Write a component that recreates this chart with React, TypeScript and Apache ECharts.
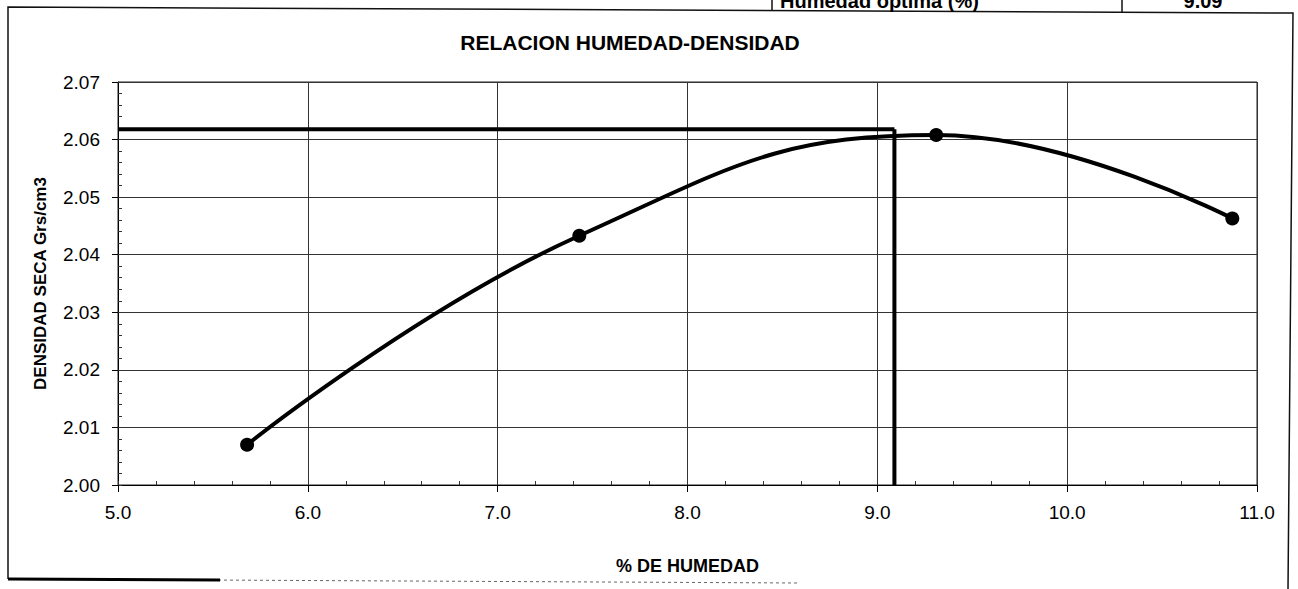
import React, { useEffect, useRef } from "react";
import * as echarts from "echarts";

// Data
const humedad = [5.68, 7.43, 9.31, 10.87];
const densidad = [2.007, 2.0433, 2.0608, 2.0463];
const humedadOptima = 9.09;
const densidadMaxima = 2.0618;
const xTicks = [5, 6, 7, 8, 9, 10, 11];
const yTicks = [2.0, 2.01, 2.02, 2.03, 2.04, 2.05, 2.06, 2.07];

const FONT = "'Liberation Sans', Arial, Helvetica, sans-serif";

export default function App() {
  const ref = useRef<HTMLDivElement>(null);
  useEffect(() => {
    if (!ref.current) return;
    const chart = echarts.init(ref.current, undefined, { renderer: "svg" });
    const xMin = xTicks[0];
    const xMax = xTicks[xTicks.length - 1];
    const yMin = yTicks[0];
    const yMax = yTicks[yTicks.length - 1];
    const curve = humedad.map((x, i) => [x, densidad[i]]);
    const hLine = [
      [xMin, densidadMaxima],
      [humedadOptima, densidadMaxima],
    ];
    const vLine = [
      [humedadOptima, densidadMaxima],
      [humedadOptima, yMin],
    ];
    chart.setOption({
      animation: false,
      backgroundColor: "#ffffff",
      textStyle: { fontFamily: FONT, color: "#000" },
      grid: {
        left: 118,
        right: 41,
        top: 82,
        bottom: 104,
        show: true,
        borderColor: "#222",
        borderWidth: 1,
      },
      xAxis: [
        {
          type: "value",
          min: xMin,
          max: xMax,
          interval: 1,
          name: "% DE HUMEDAD",
          nameLocation: "middle",
          nameGap: 72,
          nameTextStyle: { fontFamily: FONT, fontWeight: "bold", fontSize: 18, color: "#000" },
          axisLine: { show: true, lineStyle: { color: "#000", width: 1 } },
          axisTick: { show: true, length: 7, lineStyle: { color: "#000" } },
          axisLabel: {
            formatter: (v: number) => v.toFixed(1),
            fontSize: 19,
            color: "#000",
            fontFamily: FONT,
            margin: 18,
          },
          splitLine: { show: true, lineStyle: { color: "#333", width: 1 } },
        },
        {
          type: "value",
          min: xMin,
          max: xMax,
          interval: 0.2,
          position: "bottom",
          axisLine: { show: false },
          axisTick: { show: true, inside: true, length: 4, lineStyle: { color: "#333" } },
          axisLabel: { show: false },
          splitLine: { show: false },
        },
      ],
      yAxis: [
        {
          type: "value",
          min: yMin,
          max: yMax,
          interval: 0.01,
          name: "DENSIDAD SECA Grs/cm3",
          nameLocation: "middle",
          nameRotate: 90,
          nameGap: 69,
          nameTextStyle: { fontFamily: FONT, fontWeight: "bold", fontSize: 17, color: "#000" },
          axisLine: { show: true, lineStyle: { color: "#000", width: 1 } },
          axisTick: { show: true, length: 6, lineStyle: { color: "#000" } },
          axisLabel: {
            formatter: (v: number) => v.toFixed(2),
            fontSize: 19,
            color: "#000",
            fontFamily: FONT,
            margin: 18,
          },
          splitLine: { show: true, lineStyle: { color: "#333", width: 1 } },
        },
        {
          type: "value",
          min: yMin,
          max: yMax,
          interval: 0.002,
          position: "left",
          axisLine: { show: false },
          axisTick: { show: true, inside: true, length: 4, lineStyle: { color: "#333" } },
          axisLabel: { show: false },
          splitLine: { show: false },
        },
      ],
      graphic: [
        {
          type: "text",
          x: 630,
          y: 42,
          style: {
            text: "RELACION HUMEDAD-DENSIDAD",
            font: `bold 21px ${FONT}`,
            fill: "#000",
            textAlign: "center",
            textVerticalAlign: "middle",
          },
        },
        {
          type: "polyline",
          shape: { points: [[8, 579], [8, 7], [1293, 13], [1288, 589]] },
          style: { fill: "none", stroke: "#111", lineWidth: 1.5 },
          silent: true,
        },
        {
          type: "line",
          shape: { x1: 8, y1: 579, x2: 800, y2: 583 },
          style: { stroke: "#666", lineWidth: 1, lineDash: [3, 3] },
        },
        {
          type: "line",
          shape: { x1: 8, y1: 579, x2: 220, y2: 580 },
          style: { stroke: "#000", lineWidth: 3 },
        },
        {
          type: "line",
          shape: { x1: 772, y1: 0, x2: 772, y2: 11 },
          style: { stroke: "#111", lineWidth: 1.5 },
        },
        {
          type: "line",
          shape: { x1: 1122, y1: 0, x2: 1122, y2: 12 },
          style: { stroke: "#111", lineWidth: 1.5 },
        },
        {
          type: "text",
          x: 780,
          y: 1,
          style: {
            text: "Humedad óptima (%)",
            font: `bold 20px ${FONT}`,
            fill: "#000",
            textAlign: "left",
            textVerticalAlign: "middle",
          },
        },
        {
          type: "text",
          x: 1203,
          y: 1,
          style: {
            text: "9.09",
            font: `bold 20px ${FONT}`,
            fill: "#000",
            textAlign: "center",
            textVerticalAlign: "middle",
          },
        },
      ],
      series: [
        {
          type: "line",
          data: hLine,
          xAxisIndex: 0,
          yAxisIndex: 0,
          symbol: "none",
          lineStyle: { color: "#000", width: 4 },
          silent: true,
          z: 3,
        },
        {
          type: "line",
          data: vLine,
          xAxisIndex: 0,
          yAxisIndex: 0,
          symbol: "none",
          lineStyle: { color: "#000", width: 4 },
          silent: true,
          z: 3,
        },
        {
          type: "line",
          data: curve,
          xAxisIndex: 0,
          yAxisIndex: 0,
          smooth: 0.45,
          symbol: "circle",
          symbolSize: 14,
          itemStyle: { color: "#000" },
          lineStyle: { color: "#000", width: 4 },
          silent: true,
          z: 4,
        },
      ],
    });
    return () => chart.dispose();
  }, []);
  return (
    <div
      ref={ref}
      style={{ position: "fixed", left: 0, top: 0, width: 1298, height: 589, background: "#fff" }}
    />
  );
}
